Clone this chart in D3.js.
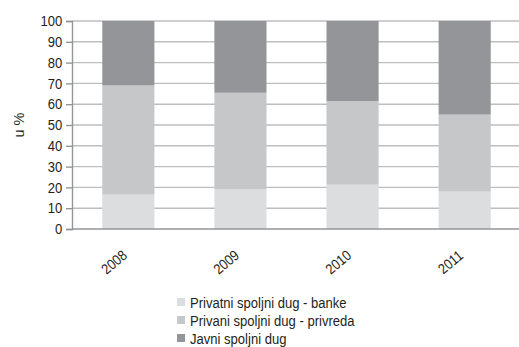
<!DOCTYPE html>
<html>
<head>
<meta charset="utf-8">
<script src="https://cdn.jsdelivr.net/npm/d3@7"></script>
<style>
  html, body { margin: 0; padding: 0; background: #fff; }
  svg { display: block; }
  text { font-family: "Liberation Sans", sans-serif; fill: #231f20; }
</style>
</head>
<body>
<svg id="chart" width="519" height="347"></svg>
<script>
// Structure of external debt by year (shares, %)
const years = ["2008", "2009", "2010", "2011"];
const banke = [16.5, 19, 21.3, 18];
const privreda = [52.5, 46.5, 40.2, 37];
const javni = [31, 34.5, 38.5, 45];
const seriesNames = ["Privatni spoljni dug - banke", "Privani spoljni dug - privreda", "Javni spoljni dug"];
const seriesColors = ["#dcdddf", "#c6c7c9", "#939598"];
const yTicks = [0, 10, 20, 30, 40, 50, 60, 70, 80, 90, 100];

const rows = years.map((y, i) => ({ year: y, banke: banke[i], privreda: privreda[i], javni: javni[i] }));
const keys = ["banke", "privreda", "javni"];
const stacked = d3.stack().keys(keys)(rows);

const svg = d3.select("#chart");
const plotLeft = 72, plotRight = 521, plotTop = 21, plotBottom = 229;
const fontStack = '"Liberation Sans", sans-serif';

const x = d3.scaleBand().domain(years).range([plotLeft, plotRight]).paddingInner(0.535).paddingOuter(0.27);
const y = d3.scaleLinear().domain([0, 100]).range([plotBottom, plotTop]);

// grid lines
svg.append("g").selectAll("line").data(yTicks.filter(t => t > 0)).join("line")
  .attr("x1", plotLeft).attr("x2", 519)
  .attr("y1", d => y(d)).attr("y2", d => y(d))
  .attr("stroke", "#bcbec0").attr("stroke-width", 1.4);

// stacked bars
svg.append("g").selectAll("g").data(stacked).join("g")
  .attr("fill", (d, i) => seriesColors[i])
  .selectAll("rect").data(d => d).join("rect")
  .attr("x", d => x(d.data.year))
  .attr("width", x.bandwidth())
  .attr("y", d => y(d[1]))
  .attr("height", d => y(d[0]) - y(d[1]));

// y axis
const yAxis = svg.append("g").attr("transform", `translate(${plotLeft},0)`)
  .call(d3.axisLeft(y).tickValues(yTicks).tickSize(6).tickPadding(5));
yAxis.select(".domain").attr("stroke", "#939598").attr("stroke-width", 1.4);
yAxis.selectAll(".tick line").attr("stroke", "#939598").attr("stroke-width", 1.4);
yAxis.selectAll("text").attr("font-size", 14.5).attr("fill", "#231f20")
  .style("font-family", fontStack)
  .attr("transform", "translate(-7,0) scale(0.9,1)")
  .attr("x", -3);

// x axis
const xAxis = svg.append("g").attr("transform", `translate(0,${plotBottom})`)
  .call(d3.axisBottom(x).tickSize(0).tickPadding(0));
xAxis.select(".domain").attr("d", `M${plotLeft},0H519`).attr("stroke", "#939598").attr("stroke-width", 1.4);
xAxis.selectAll("text")
  .attr("font-size", 14.5).attr("fill", "#231f20")
  .style("font-family", fontStack)
  .attr("text-anchor", "middle")
  .attr("dy", 0).attr("y", 0)
  .attr("transform", "translate(-11,37) rotate(-40) scale(0.87,1)");

// y axis title
svg.append("text")
  .attr("transform", "translate(24,125) rotate(-90)")
  .attr("text-anchor", "middle")
  .attr("font-size", 14.5)
  .text("u %");

// legend
const legend = svg.append("g").attr("transform", "translate(177,302)");
seriesNames.forEach((name, i) => {
  const g = legend.append("g").attr("transform", `translate(0,${i * 18})`);
  g.append("rect").attr("x", 0).attr("y", -4).attr("width", 8).attr("height", 8).attr("fill", seriesColors[i]);
  g.append("text").attr("transform", "translate(13,6) scale(0.87,1)").attr("font-size", 15).text(name);
});
</script>
</body>
</html>
